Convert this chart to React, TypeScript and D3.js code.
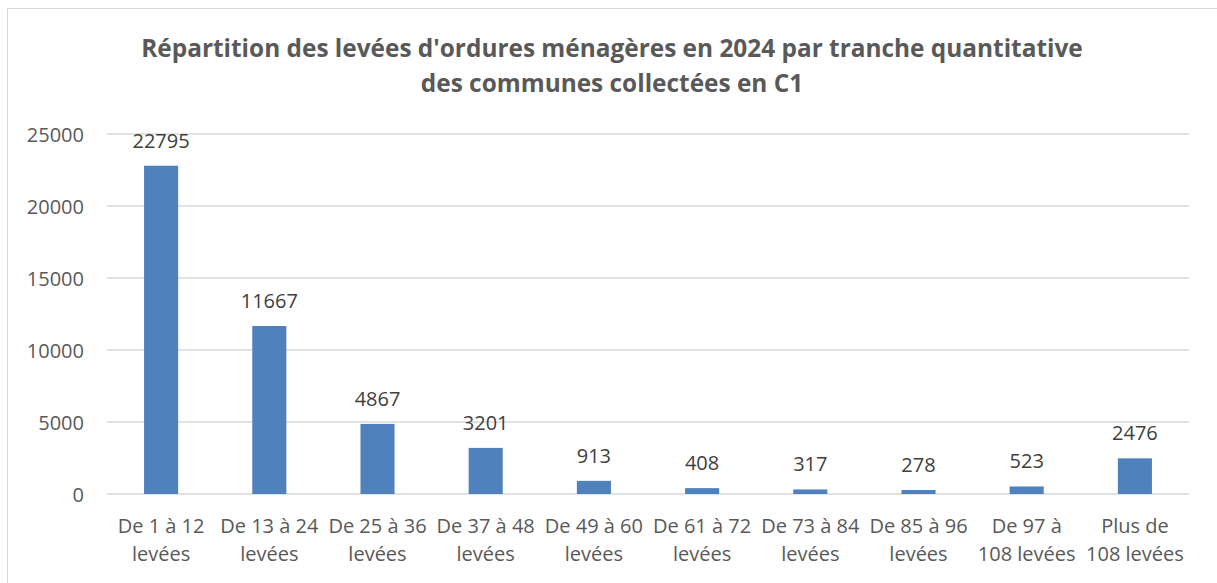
import React from "react";
import * as d3 from "d3";

const categories: string[][] = [
  ["De 1 à 12", "levées"],
  ["De 13 à 24", "levées"],
  ["De 25 à 36", "levées"],
  ["De 37 à 48", "levées"],
  ["De 49 à 60", "levées"],
  ["De 61 à 72", "levées"],
  ["De 73 à 84", "levées"],
  ["De 85 à 96", "levées"],
  ["De 97 à", "108 levées"],
  ["Plus de", "108 levées"],
];
const values: number[] = [22795, 11667, 4867, 3201, 913, 408, 317, 278, 523, 2476];
const yTicks: number[] = [0, 5000, 10000, 15000, 20000, 25000];
const titleLines: string[] = [
  "Répartition des levées d'ordures ménagères en 2024 par tranche quantitative",
  "des communes collectées en C1",
];

const W = 1217;
const H = 583;
const left = 107;
const right = 1189;
const top = 134;
const bottom = 494;
const font = "'Open Sans', sans-serif";
const textColor = "#595959";

export default function App() {
  const idx = categories.map((_, i) => String(i));
  const x = d3.scaleBand<string>().domain(idx).range([left, right]).paddingInner(0.685).paddingOuter(0.3425);
  const y = d3.scaleLinear().domain([0, 25000]).range([bottom, top]);
  return (
    <svg width={W} height={H} style={{ position: "absolute", left: 0, top: 0, background: "#fff" }}>
      <rect x={7.5} y={8.5} width={W + 10} height={H + 10} fill="#fff" stroke="#D9D9D9" strokeWidth={1} />
      {titleLines.map((t, i) => (
        <text key={i} x={612} y={57 + i * 35} textAnchor="middle" fontFamily={font} fontWeight="bold" fontSize={24.4} fill={textColor}>
          {t}
        </text>
      ))}
      {yTicks.map((t) => (
        <g key={t}>
          <line x1={left} x2={right} y1={y(t)} y2={y(t)} stroke="#D9D9D9" strokeWidth={1.5} />
          <text x={84} y={y(t) + 7.5} textAnchor="end" fontFamily={font} fontSize={20} fill={textColor}>
            {t}
          </text>
        </g>
      ))}
      {values.map((v, i) => (
        <g key={i}>
          <rect x={x(String(i))} y={y(v)} width={x.bandwidth()} height={bottom - y(v)} fill="#4F81BD" />
          <text x={x(String(i))! + x.bandwidth() / 2} y={y(v) - 18} textAnchor="middle" fontFamily={font} fontSize={20} fill="#404040">
            {v}
          </text>
        </g>
      ))}
      {categories.map((c, i) => (
        <text key={i} textAnchor="middle" fontFamily={font} fontSize={20} fill={textColor}>
          {c.map((l, j) => (
            <tspan key={j} x={x(String(i))! + x.bandwidth() / 2} y={533 + j * 28}>
              {l}
            </tspan>
          ))}
        </text>
      ))}
    </svg>
  );
}
